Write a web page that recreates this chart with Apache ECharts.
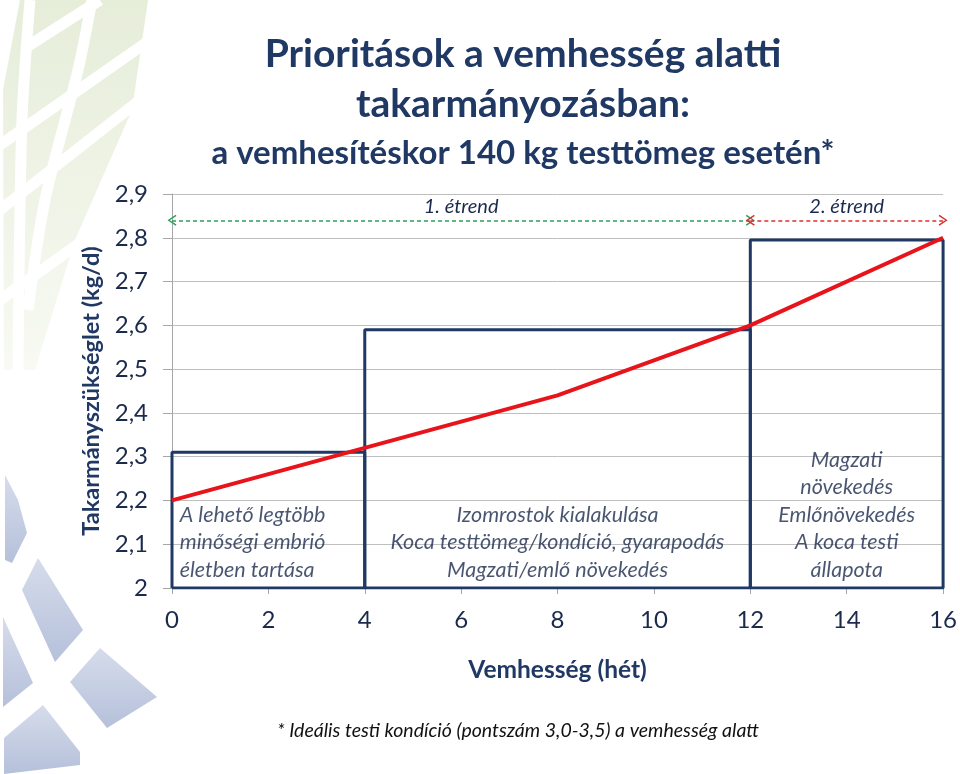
<!DOCTYPE html>
<html lang="hu">
<head>
<meta charset="UTF-8">
<title>Prioritások a vemhesség alatti takarmányozásban</title>
<script src="https://cdn.jsdelivr.net/npm/echarts@6/dist/echarts.min.js"></script>
<style>
  html, body { margin: 0; padding: 0; background: #fff; }
  #chart { width: 960px; height: 774px; }
</style>
</head>
<body>
<div id="chart"></div>
<script>
// vemhesség hete és takarmányszükséglet (kg/d)
var weeks = [0, 4, 8, 12, 16];
var need = [2.2, 2.32, 2.44, 2.6, 2.8];

// szakaszok (dobozok)
var stageStart = [0, 4, 12];
var stageEnd = [4, 12, 16];
var stageLevel = [2.31, 2.59, 2.795];
var stageText = [
    'A lehető legtöbb\nminőségi embrió\néletben tartása',
    'Izomrostok kialakulása\nKoca testtömeg/kondíció, gyarapodás\nMagzati/emlő növekedés',
    'Magzati\nnövekedés\nEmlőnövekedés\nA koca testi\nállapota'
];

// étrendek
var dietName = ['1. étrend', '2. étrend'];
var dietStart = [0, 12];
var dietEnd = [12, 16];
var dietLevel = 2.84;

var navy = '#1F3864';
var textCol = '#1B2A4C';
var font = 'Lato, "Open Sans", sans-serif';

var chart = echarts.init(document.getElementById('chart'));

var series = [];

// dobozok
stageStart.forEach(function (s, i) {
    var e = stageEnd[i], t = stageLevel[i];
    series.push({
        type: 'line',
        data: [[s, 2], [s, t], [e, t], [e, 2], [s, 2]],
        symbol: 'none',
        lineStyle: { color: navy, width: 3 },
        z: 2,
        silent: true
    });
});

// takarmányszükséglet
series.push({
    type: 'line',
    data: weeks.map(function (w, i) { return [w, need[i]]; }),
    symbol: 'none',
    lineStyle: { color: '#E8141B', width: 4 },
    z: 4,
    silent: true
});

// szakasz szövegek
series.push({
    type: 'scatter',
    symbolSize: 0,
    silent: true,
    z: 5,
    data: stageText.map(function (txt, i) {
        var left = i === 0;
        return {
            value: [left ? stageStart[i] + 0.16 : (stageStart[i] + stageEnd[i]) / 2, 2.01],
            label: {
                show: true,
                formatter: txt,
                position: [0, 0],
                align: left ? 'left' : 'center',
                verticalAlign: 'bottom',
                fontFamily: font,
                fontStyle: 'italic',
                fontSize: 21.5,
                lineHeight: 27.5,
                color: textCol
            }
        };
    })
});

// étrend nyilak
var chevron = 'path://M5,0 L10,9 L8.8,10 L5,2.6 L1.2,10 L0,9 Z';
var dietColor = ['#2E9E5B', '#D9302C'];
series.push({
    type: 'line',
    data: [],
    markLine: {
        silent: true,
        symbol: [chevron, chevron],
        symbolSize: [11, 9],
        animation: false,
        data: dietName.map(function (n, i) {
            return [
                { coord: [dietStart[i], dietLevel], name: n,
                  lineStyle: { color: dietColor[i], type: [4, 3], width: 1.5 },
                  itemStyle: { color: dietColor[i] } },
                { coord: [dietEnd[i], dietLevel] }
            ];
        }),
        label: {
            show: true,
            position: 'middle',
            formatter: '{b}',
            distance: 4,
            fontFamily: font,
            fontStyle: 'italic',
            fontSize: 20,
            color: textCol
        }
    }
});

// háttér díszítés
var deco = [];
deco.push({
    type: 'polygon', z: -10, silent: true,
    shape: { points: [[20, 0], [148, 0], [132, 110], [75, 240], [35, 370], [4, 370], [3, 90]] },
    style: { fill: new echarts.graphic.LinearGradient(0, 0, 0, 1, [
        { offset: 0, color: '#E6EDD9' }, { offset: 1, color: '#F8FAF3' }]) }
});
[[[100, 0], [25, 48]], [[150, 40], [0, 145]], [[140, 100], [0, 210]], [[140, 200], [0, 300]],
 [[92, 0], [78, 70], [45, 200], [28, 310]], [[30, 0], [22, 120], [18, 370]]].forEach(function (p) {
    deco.push({
        type: 'polyline', z: -9, silent: true,
        shape: { points: p, smooth: 0.3 },
        style: { stroke: '#fff', lineWidth: 11, fill: null }
    });
});
var blue = [
    [[5, 475], [18, 500], [27, 533], [12, 563], [5, 560]],
    [[22, 590], [38, 558], [83, 630], [55, 662]],
    [[3, 617], [33, 683], [3, 707]],
    [[70, 682], [100, 648], [157, 697], [107, 728]],
    [[4, 738], [43, 705], [80, 752], [80, 765], [4, 774]]
];
blue.forEach(function (p) {
    deco.push({
        type: 'polygon', z: -10, silent: true,
        shape: { points: p },
        style: { fill: new echarts.graphic.LinearGradient(0, 0, 0, 1, [
            { offset: 0, color: '#D6DCEB' }, { offset: 1, color: '#B5C0DA' }]) }
    });
});
deco.push({
    type: 'text', x: 518, y: 731, silent: true,
    style: {
        text: '* Ideális testi kondíció (pontszám 3,0-3,5) a vemhesség alatt',
        align: 'center', verticalAlign: 'middle',
        fontFamily: font, fontStyle: 'italic', fontSize: 19.5, fill: '#111'
    }
});

var option = {
    backgroundColor: '#fff',
    animation: false,
    title: {
        text: 'Prioritások a vemhesség alatti\ntakarmányozásban:',
        subtext: 'a vemhesítéskor 140 kg testtömeg esetén*',
        left: 518,
        textAlign: 'center',
        top: 24,
        itemGap: 2,
        textStyle: { fontFamily: font, fontWeight: 'bold', fontSize: 39, lineHeight: 50, color: navy },
        subtextStyle: { fontFamily: font, fontWeight: 'bold', fontSize: 33, lineHeight: 44, color: navy }
    },
    graphic: { elements: deco },
    grid: { left: 172, right: 15, top: 194, bottom: 186 },
    xAxis: {
        type: 'value',
        min: 0, max: 16, interval: 2,
        name: 'Vemhesség (hét)',
        nameLocation: 'middle',
        nameGap: 70,
        nameTextStyle: { fontFamily: font, fontWeight: 'bold', fontSize: 24.5, color: navy },
        axisLine: { lineStyle: { color: '#A6A6A6' } },
        axisTick: { show: true, length: 6, lineStyle: { color: '#A6A6A6' } },
        axisLabel: { fontFamily: font, fontSize: 24, color: textCol, margin: 20 },
        splitLine: { show: false }
    },
    yAxis: {
        type: 'value',
        min: 2, max: 2.9, interval: 0.1,
        name: 'Takarmányszükséglet (kg/d)',
        nameLocation: 'middle',
        nameGap: 66,
        nameTextStyle: { fontFamily: font, fontWeight: 'bold', fontSize: 23.5, color: navy },
        axisLine: { show: true, lineStyle: { color: '#A6A6A6' } },
        axisTick: { show: true, length: 9, lineStyle: { color: '#A6A6A6' } },
        axisLabel: {
            fontFamily: font, fontSize: 24, color: textCol, margin: 24,
            formatter: function (v) { return String(Math.round(v * 10) / 10).replace('.', ','); }
        },
        splitLine: { lineStyle: { color: '#BFBFBF' } }
    },
    series: series
};

chart.setOption(option);
</script>
</body>
</html>
